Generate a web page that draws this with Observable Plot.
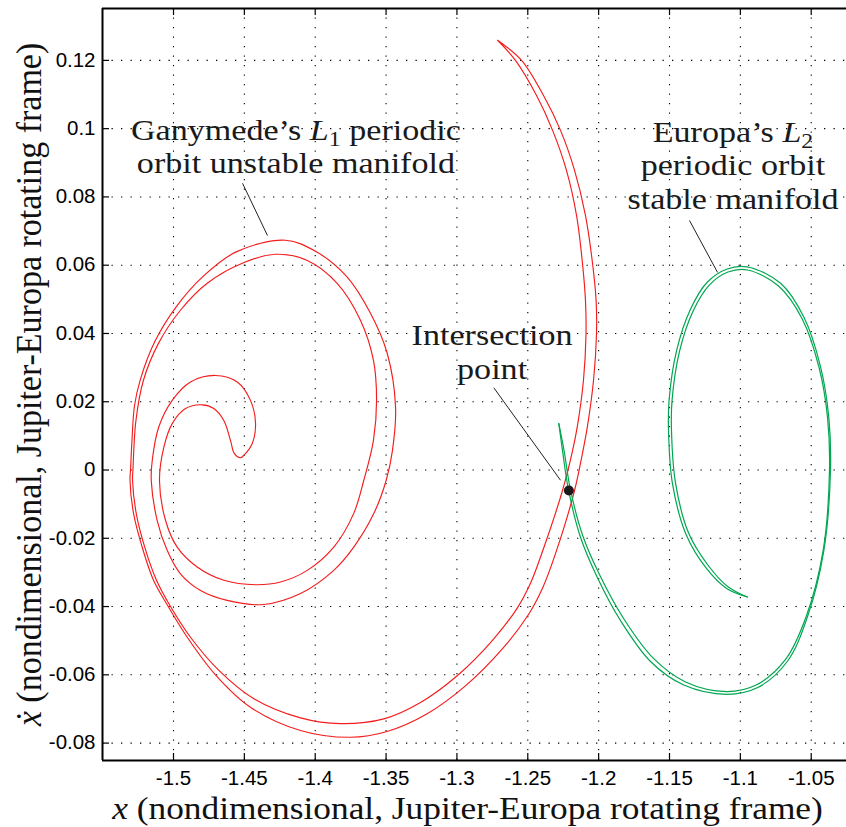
<!DOCTYPE html>
<html>
<head>
<meta charset="utf-8">
<script src="https://cdn.jsdelivr.net/npm/d3@7"></script>
<script src="https://cdn.jsdelivr.net/npm/@observablehq/plot@0.6"></script>
<style>
  html, body { margin: 0; padding: 0; background: #fff; }
  #chart svg { display: block; }
</style>
</head>
<body>
<div id="chart"></div>
<script>
// ---------- axis ticks ----------
const xTicks = [-1.5, -1.45, -1.4, -1.35, -1.3, -1.25, -1.2, -1.15, -1.1, -1.05];
const xTickLabels = ["-1.5", "-1.45", "-1.4", "-1.35", "-1.3", "-1.25", "-1.2", "-1.15", "-1.1", "-1.05"];
const yTicks = [-0.08, -0.06, -0.04, -0.02, 0, 0.02, 0.04, 0.06, 0.08, 0.1, 0.12];
const yTickLabels = ["-0.08", "-0.06", "-0.04", "-0.02", "0", "0.02", "0.04", "0.06", "0.08", "0.1", "0.12"];
const xDomain = [-1.5501, -1.0251];
const yDomain = [-0.0851, 0.1352];
const xLabel = "x (nondimensional, Jupiter-Europa rotating frame)";
const yLabel = "ẋ (nondimensional, Jupiter-Europa rotating frame)";

// ---------- Ganymede L1 unstable manifold (red closed curve: tip -> outer strand -> hook -> inner strand -> tip) ----------
const redX = [
-1.2713, -1.2544, -1.2389, -1.2269, -1.2170, -1.2093, -1.2043, -1.2018, -1.2015, -1.2036, -1.2078, -1.2117, -1.2170,
-1.2302, -1.2397, -1.2496, -1.2675, -1.2936, -1.3210, -1.3493, -1.3751,
-1.4104, -1.4457, -1.4704, -1.4903, -1.5037, -1.5141, -1.5221, -1.5282, -1.5307, -1.5303, -1.5293,
-1.5275, -1.5234, -1.5131, -1.4981, -1.4797, -1.4558, -1.4210,
-1.3986, -1.3774, -1.3610, -1.3492,
-1.3433, -1.3455, -1.3499, -1.3586, -1.3728, -1.3869, -1.4104, -1.4363, -1.4621, -1.4809,
-1.4951, -1.5044, -1.5115, -1.5157, -1.5150, -1.5104, -1.5009, -1.4880, -1.4704, -1.4550,
-1.4457, -1.4421, -1.4445, -1.4504, -1.4527,
-1.4570, -1.4598, -1.4645, -1.4716, -1.4797, -1.4915, -1.5009, -1.5068, -1.5099, -1.5056,
-1.4974, -1.4833, -1.4645, -1.4421, -1.4245, -1.4056, -1.3869, -1.3728, -1.3657, -1.3589,
-1.3567, -1.3589, -1.3680, -1.3845, -1.4056, -1.4280, -1.4506, -1.4762, -1.4951, -1.5106,
-1.5212, -1.5265, -1.5286, -1.5289, -1.5263, -1.5203, -1.5120, -1.5021, -1.4880, -1.4680,
-1.4433, -1.4104, -1.3822, -1.3516, -1.3257, -1.2996, -1.2749, -1.2572, -1.2481, -1.2389,
-1.2255, -1.2184, -1.2149, -1.2107, -1.2089, -1.2093, -1.2114, -1.2156, -1.2227, -1.2325, -1.2438, -1.2587, -1.2713];
const redY = [
0.1259, 0.1200, 0.1097, 0.0995, 0.0878, 0.0746, 0.0605, 0.0497, 0.0400, 0.0263, 0.0131, 0.0043, -0.0060,
-0.0242, -0.0347, -0.0424, -0.0522, -0.0631, -0.0714, -0.0766, -0.0783,
-0.0763, -0.0695, -0.0600, -0.0490, -0.0400, -0.0323, -0.0226, -0.0127, -0.0030, 0.0002, 0.0087,
0.0189, 0.0265, 0.0377, 0.0478, 0.0565, 0.0639, 0.0673,
0.0638, 0.0565, 0.0459, 0.0342,
0.0184, 0.0057, -0.0030, -0.0127, -0.0226, -0.0294, -0.0362, -0.0394, -0.0382, -0.0353,
-0.0304, -0.0236, -0.0148, -0.0030, 0.0028, 0.0126, 0.0204, 0.0258, 0.0277, 0.0258,
0.0204, 0.0136, 0.0077, 0.0043, 0.0036,
0.0048, 0.0087, 0.0145, 0.0180, 0.0191, 0.0180, 0.0136, 0.0067, -0.0030, -0.0148,
-0.0226, -0.0284, -0.0323, -0.0336, -0.0328, -0.0294, -0.0226, -0.0127, -0.0030, 0.0087,
0.0204, 0.0321, 0.0438, 0.0547, 0.0614, 0.0632, 0.0607, 0.0547, 0.0468, 0.0371,
0.0263, 0.0145, 0.0002, -0.0030, -0.0127, -0.0226, -0.0323, -0.0400, -0.0490, -0.0587,
-0.0670, -0.0726, -0.0743, -0.0729, -0.0681, -0.0602, -0.0499, -0.0403, -0.0332, -0.0230,
-0.0060, 0.0057, 0.0131, 0.0263, 0.0400, 0.0497, 0.0605, 0.0746, 0.0878, 0.0995, 0.1097, 0.1200, 0.1259];

// ---------- Europa L2 stable manifold (green, two strands) ----------
const greenOuterX = [-1.2281, -1.2255, -1.2212, -1.2128, -1.2010, -1.1846, -1.1634, -1.1399, -1.1097, -1.0881,
 -1.0669, -1.0528, -1.0411, -1.0364, -1.0376, -1.0434, -1.0552, -1.0716, -1.0951, -1.1093,
 -1.1234, -1.1352, -1.1450, -1.1503, -1.1507, -1.1479, -1.1383, -1.1242, -1.1097, -1.0951];
const greenOuterY = [0.0136, 0.0057, -0.0060, -0.0197, -0.0314, -0.0441, -0.0561, -0.0630, -0.0657, -0.0638,
 -0.0561, -0.0432, -0.0236, -0.0001, 0.0155, 0.0302, 0.0448, 0.0547, 0.0595, 0.0589,
 0.0550, 0.0471, 0.0350, 0.0204, 0.0116, -0.0040, -0.0189, -0.0287, -0.0347, -0.0372];
const greenInnerX = [-1.2281, -1.2244, -1.2198, -1.2110, -1.1990, -1.1824, -1.1613, -1.1387, -1.1097, -1.0889,
 -1.0681, -1.0536, -1.0416, -1.0371, -1.0385, -1.0445, -1.0565, -1.0731, -1.0951, -1.1087,
 -1.1221, -1.1334, -1.1429, -1.1482, -1.1486, -1.1457, -1.1366, -1.1228, -1.1090, -1.0951];
const greenInnerY = [0.0136, 0.0057, -0.0060, -0.0195, -0.0310, -0.0435, -0.0552, -0.0621, -0.0649, -0.0630,
 -0.0555, -0.0430, -0.0236, -0.0001, 0.0155, 0.0301, 0.0444, 0.0539, 0.0586, 0.0580,
 0.0541, 0.0465, 0.0348, 0.0204, 0.0116, -0.0039, -0.0184, -0.0279, -0.0341, -0.0372];

// ---------- intersection point ----------
const pointX = [-1.2210];
const pointY = [-0.0060];

// ---------- annotations (y = baseline of the last line) ----------
const annText = ["Ganymede’s L1 periodic\norbit unstable manifold", "Europa’s L2\nperiodic orbit\nstable manifold", "Intersection\npoint"];
const annX = [-1.4136, -1.1052, -1.2752];
const annY = [0.0869, 0.0766, 0.0268];
const leadX1 = [-1.4513, -1.1359, -1.2740];
const leadY1 = [0.0840, 0.0731, 0.0241];
const leadX2 = [-1.4337, -1.1161, -1.2269];
const leadY2 = [0.0687, 0.0579, -0.0030];

// ---------- build ----------
const W = 846, H = 827, mL = 102, mR = 0, mT = 8, mB = 67;
const xTickLen = (xDomain[1] - xDomain[0]) * 7 / (W - mL - mR);
const yTickLen = (yDomain[1] - yDomain[0]) * 7 / (H - mT - mB);

const red = redX.map((x, i) => ({x, y: redY[i]}));
const green = [
  ...greenOuterX.map((x, i) => ({x, y: greenOuterY[i], s: "outer"})),
  ...greenInnerX.map((x, i) => ({x, y: greenInnerY[i], s: "inner"}))
];
const points = pointX.map((x, i) => ({x, y: pointY[i]}));
const anns = annText.map((t, i) => ({t, x: annX[i], y: annY[i]}));
const leaders = leadX1.map((x1, i) => ({x1, y1: leadY1[i], x2: leadX2[i], y2: leadY2[i]}));
const xFmt = new Map(xTicks.map((v, i) => [v, xTickLabels[i]]));
const yFmt = new Map(yTicks.map((v, i) => [v, yTickLabels[i]]));
const serif = "'Liberation Serif', 'Times New Roman', Times, serif";
const sans = "'Liberation Sans', Arial, Helvetica, sans-serif";

const chart = Plot.plot({
  width: W, height: H,
  marginLeft: mL, marginRight: mR, marginTop: mT, marginBottom: mB,
  style: {fontFamily: sans, fontSize: "19.5px", color: "#000", background: "#fff"},
  x: {domain: xDomain},
  y: {domain: yDomain},
  marks: [
    Plot.ruleX(xTicks, {stroke: "#000", strokeWidth: 1.1, strokeDasharray: "1.3,8.2"}),
    Plot.ruleY(yTicks, {stroke: "#000", strokeWidth: 1.1, strokeDasharray: "1.3,8.2"}),
    Plot.line(red, {x: "x", y: "y", stroke: "#f41c1c", strokeWidth: 1.15, curve: "catmull-rom"}),
    Plot.line(green, {x: "x", y: "y", z: "s", stroke: "#00a651", strokeWidth: 1.2, curve: "catmull-rom"}),
    Plot.link(leaders, {x1: "x1", y1: "y1", x2: "x2", y2: "y2", stroke: "#222", strokeWidth: 1}),
    Plot.dot(points, {x: "x", y: "y", r: 5, fill: "#1a1a1a", stroke: null}),
    Plot.text(anns, {x: "x", y: "y", text: "t", fontFamily: serif, fontSize: 30, textAnchor: "middle",
      lineAnchor: "bottom", lineHeight: 1.115, fill: "#1a1a1a"}),
    // frame (left, bottom, top)
    Plot.ruleX([xDomain[0]], {stroke: "#000", strokeWidth: 2}),
    Plot.ruleY([yDomain[0], yDomain[1]], {stroke: "#000", strokeWidth: 2}),
    // inward ticks
    Plot.ruleX(xTicks, {y1: yDomain[0], y2: yDomain[0] + yTickLen, stroke: "#000", strokeWidth: 1.2}),
    Plot.ruleX(xTicks, {y1: yDomain[1], y2: yDomain[1] - yTickLen, stroke: "#000", strokeWidth: 1.2}),
    Plot.ruleY(yTicks, {x1: xDomain[0], x2: xDomain[0] + xTickLen, stroke: "#000", strokeWidth: 1.2}),
    // tick labels
    Plot.axisX({ticks: xTicks, tickFormat: d => xFmt.get(d), tickSize: 0, tickPadding: 11, anchor: "bottom",
      label: null, fontSize: 19.5, fill: "#000"}),
    Plot.axisY({ticks: yTicks, tickFormat: d => yFmt.get(d), tickSize: 0, tickPadding: 7, anchor: "left",
      label: null, fontSize: 19.5, fill: "#000"}),
    // axis titles
    Plot.text([xLabel], {frameAnchor: "bottom", dy: 58, dx: -7, lineAnchor: "bottom", textAnchor: "middle",
      fontFamily: serif, fontSize: 31, fill: "#111"}),
    Plot.text([yLabel], {frameAnchor: "left", dx: -62, rotate: -90, lineAnchor: "bottom", textAnchor: "middle",
      fontFamily: serif, fontSize: 33, fill: "#111"})
  ]
});

document.getElementById("chart").appendChild(chart);
const svg = chart.tagName.toLowerCase() === "svg" ? chart : chart.querySelector("svg");
const NS = "http://www.w3.org/2000/svg";

function stretch(el, sx, sy) {
  const t = el.getAttribute("transform");
  if (t) el.setAttribute("transform", `${t} scale(${sx},${sy})`);
  else {
    const x = +el.getAttribute("x") || 0;
    el.removeAttribute("x");
    el.setAttribute("transform", `translate(${x},0) scale(${sx},${sy})`);
  }
}
function tspan(parent, txt, attrs) {
  const t = document.createElementNS(NS, "tspan");
  t.textContent = txt;
  for (const k in attrs) t.setAttribute(k, attrs[k]);
  parent.appendChild(t);
  return t;
}
// italic L with an upright lowered subscript digit; italic leading x / ẋ
function richify(node) {
  const s = node.textContent;
  const m = s.match(/^(.*?)L(\d)(.*)$/);
  if (m) {
    node.textContent = "";
    if (m[1]) tspan(node, m[1], {});
    tspan(node, "L", {"font-style": "italic"});
    tspan(node, m[2], {"font-size": "21px", "baseline-shift": "-7px"});
    if (m[3]) tspan(node, m[3], {});
    return;
  }
  if (/^[xẋ] /.test(s)) {
    node.textContent = "";
    tspan(node, s[0], {"font-style": "italic"});
    tspan(node, s.slice(1), {});
  }
}
const annSet = new Set(annText.map(s => s.replace(/\n/g, "")));
const tickSet = new Set([...xTickLabels, ...yTickLabels]);
Array.from(svg.querySelectorAll("text")).forEach(el => {
  const s = el.textContent;
  if (annSet.has(s)) {
    const lines = Array.from(el.children);
    if (lines.length) lines.forEach(richify); else richify(el);
    stretch(el, 1.137, 1);
  }
  else if (s === xLabel) { richify(el); stretch(el, 1.14, 1); }
  else if (s === yLabel) { richify(el); stretch(el, 1.03, 1.1); }
  else if (tickSet.has(s)) stretch(el, 1.05, 1);
});
</script>
</body>
</html>
